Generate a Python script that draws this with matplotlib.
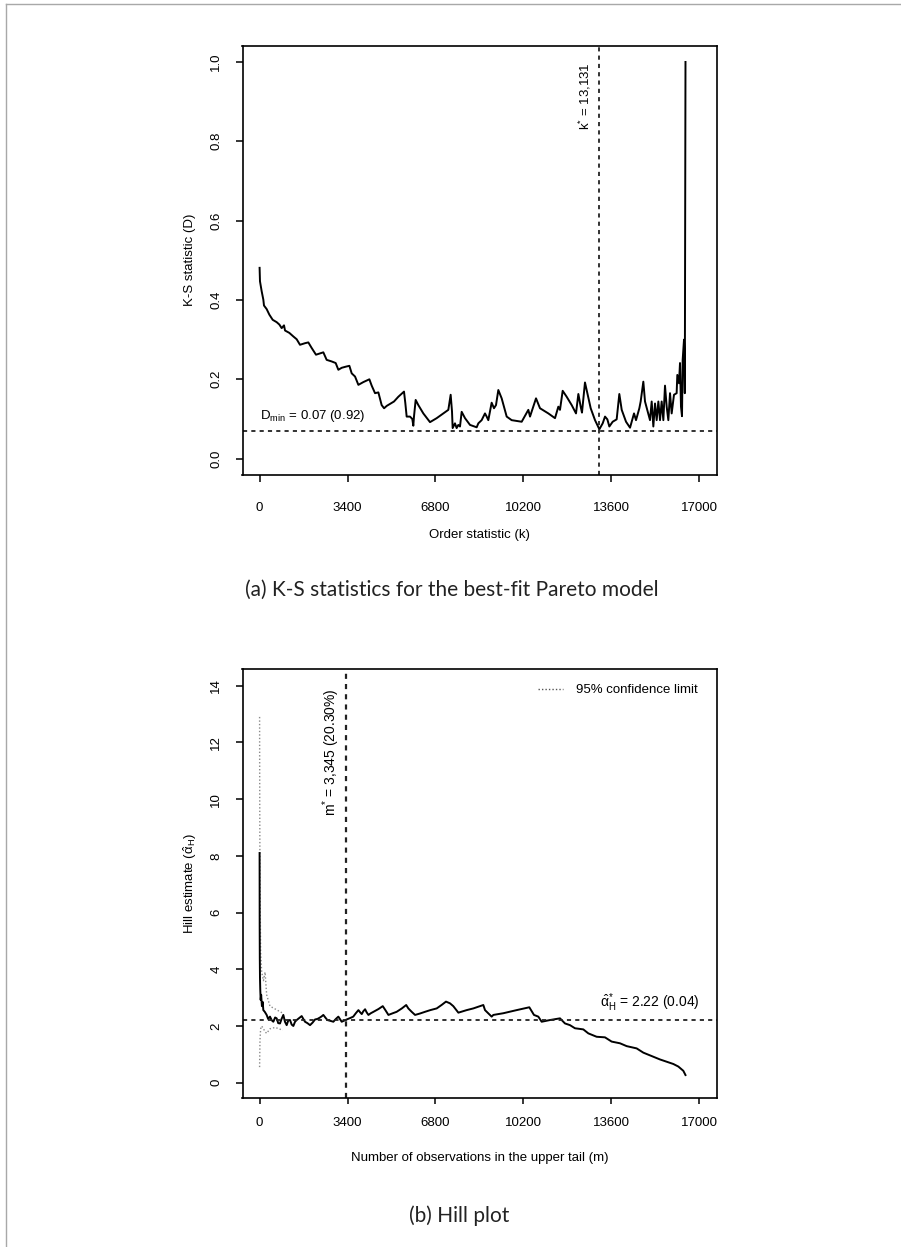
import numpy as np
import matplotlib
matplotlib.use("Agg")
import matplotlib.pyplot as plt
from matplotlib.lines import Line2D

W, H = 901, 1247

# (a) K-S statistic against order statistic k
ks_k = [0, 15, 80, 144, 170, 273, 377, 506, 661, 764, 854, 944, 983, 1150, 1305,
        1433, 1562, 1755, 1884, 2013, 2180, 2374, 2464, 2593, 2787, 2942, 3045,
        3174, 3342, 3471, 3561, 3690, 3819, 4012, 4244, 4334, 4463, 4592, 4719,
        4813, 4916, 5196, 5364, 5583, 5634, 5686, 5815, 5904, 5943, 5969, 6034,
        6137, 6330, 6588, 6846, 7104, 7297, 7387, 7439, 7464, 7554, 7618, 7683,
        7748, 7813, 7942, 8135, 8393, 8457, 8585, 8714, 8779, 8843, 8972, 9062,
        9140, 9230, 9359, 9553, 9746, 10133, 10390, 10455, 10687, 10841, 11163,
        11421, 11550, 11614, 11718, 11872, 12066, 12233, 12324, 12414, 12464,
        12580, 12671, 12801, 12968, 13136, 13265, 13355, 13445, 13522, 13651,
        13805, 13908, 14000, 14167, 14322, 14476, 14553, 14682, 14733, 14836,
        14901, 15094, 15159, 15223, 15288, 15352, 15417, 15481, 15545, 15610,
        15674, 15739, 15803, 15868, 15932, 16021, 16124, 16150, 16215, 16254,
        16292, 16331, 16357, 16409, 16440, 16455, 16466]
ks_d = [0.481, 0.447, 0.422, 0.401, 0.386, 0.377, 0.363, 0.350, 0.344, 0.338,
        0.329, 0.336, 0.323, 0.317, 0.308, 0.301, 0.287, 0.291, 0.293, 0.279,
        0.262, 0.266, 0.268, 0.249, 0.245, 0.241, 0.224, 0.229, 0.232, 0.234,
        0.215, 0.207, 0.186, 0.193, 0.200, 0.184, 0.165, 0.167, 0.135, 0.127,
        0.133, 0.144, 0.156, 0.169, 0.140, 0.106, 0.106, 0.100, 0.083, 0.106,
        0.148, 0.135, 0.114, 0.092, 0.102, 0.114, 0.123, 0.161, 0.119, 0.077,
        0.089, 0.077, 0.085, 0.081, 0.118, 0.102, 0.085, 0.079, 0.089, 0.097,
        0.114, 0.106, 0.097, 0.141, 0.127, 0.135, 0.173, 0.152, 0.106, 0.097,
        0.093, 0.123, 0.106, 0.152, 0.127, 0.114, 0.102, 0.131, 0.123, 0.171,
        0.156, 0.135, 0.114, 0.163, 0.131, 0.116, 0.192, 0.165, 0.127, 0.097,
        0.074, 0.089, 0.106, 0.099, 0.081, 0.093, 0.099, 0.163, 0.123, 0.093,
        0.078, 0.114, 0.097, 0.127, 0.144, 0.194, 0.144, 0.097, 0.144, 0.081,
        0.139, 0.097, 0.144, 0.097, 0.144, 0.097, 0.184, 0.131, 0.097, 0.165,
        0.114, 0.161, 0.165, 0.211, 0.190, 0.241, 0.131, 0.107, 0.249, 0.300,
        0.165, 0.710, 1.000]
k_star = 13131
d_min = 0.07

# (b) Hill estimate against number of tail observations m
hill_m = [0, 3, 8, 15, 25, 41, 60, 90, 120, 144, 200, 273, 330, 402, 470, 531,
          600, 660, 720, 789, 850, 918, 980, 1047, 1110, 1176, 1240, 1305, 1370,
          1434, 1530, 1627, 1690, 1756, 1850, 1950, 2050, 2143, 2240, 2336, 2400,
          2465, 2540, 2620, 2740, 2852, 2950, 3045, 3110, 3174, 3270, 3368, 3500,
          3621, 3720, 3821, 3890, 3950, 4010, 4079, 4140, 4208, 4300, 4402, 4600,
          4762, 4870, 4981, 5150, 5299, 5500, 5668, 5750, 5880, 6011, 6200, 6395,
          6600, 6848, 7050, 7206, 7360, 7489, 7685, 8006, 8264, 8392, 8650, 8715,
          8972, 9037, 9423, 9938, 10428, 10608, 10776, 10905, 11227, 11614, 11807,
          12000, 12193, 12516, 12709, 13031, 13353, 13611, 13934, 14191, 14578,
          14836, 15158, 15480, 15738, 15996, 16189, 16382, 16466]
hill_a = [8.1, 5.6, 4.4, 3.7, 3.3, 2.92, 3.1, 2.7, 2.85, 2.56, 2.5, 2.39, 2.25,
          2.33, 2.2, 2.15, 2.3, 2.27, 2.1, 2.09, 2.25, 2.39, 2.15, 2.03, 2.2, 2.21,
          2.05, 2.0, 2.15, 2.21, 2.28, 2.35, 2.25, 2.15, 2.1, 2.03, 2.12, 2.23,
          2.25, 2.30, 2.34, 2.39, 2.3, 2.21, 2.18, 2.15, 2.25, 2.33, 2.24, 2.15,
          2.19, 2.23, 2.28, 2.33, 2.45, 2.56, 2.48, 2.42, 2.52, 2.59, 2.48, 2.39,
          2.45, 2.50, 2.6, 2.70, 2.55, 2.39, 2.45, 2.50, 2.62, 2.74, 2.62, 2.5,
          2.39, 2.44, 2.50, 2.56, 2.62, 2.75, 2.86, 2.80, 2.70, 2.47, 2.56, 2.62,
          2.66, 2.74, 2.56, 2.33, 2.39, 2.45, 2.56, 2.66, 2.39, 2.33, 2.15, 2.21,
          2.27, 2.09, 2.03, 1.92, 1.88, 1.74, 1.62, 1.60, 1.45, 1.39, 1.29, 1.21,
          1.06, 0.94, 0.82, 0.74, 0.66, 0.57, 0.42, 0.27]
ci_m = [0, 5, 15, 40, 80, 150, 211, 273, 400, 600, 900]
ci_up = [12.9, 10.0, 7.0, 4.6, 3.9, 3.6, 3.9, 3.1, 2.7, 2.6, 2.45]
ci_lo = [0.55, 0.9, 1.5, 1.9, 2.0, 1.9, 1.8, 1.74, 1.9, 1.95, 1.85]
m_star = 3345
alpha_star = 2.22

xticks = [0, 3400, 6800, 10200, 13600, 17000]

plt.rcParams['font.family'] = ['Liberation Sans', 'DejaVu Sans']
plt.rcParams['mathtext.fontset'] = 'custom'
plt.rcParams['mathtext.rm'] = 'Liberation Sans'
plt.rcParams['mathtext.it'] = 'Liberation Sans:italic'
fs = 9.5

fig = plt.figure(figsize=(W / 100, H / 100), dpi=100)

def px_axes(l, t, r, b):
    return fig.add_axes([l / W, 1 - b / H, (r - l) / W, (b - t) / H])

def style(ax, yticks, tick_len, xpad):
    ax.set_xlim(-661, 17665)
    ax.set_xticks(xticks)
    ax.set_yticks(yticks)
    ax.tick_params(axis='x', length=tick_len, width=1.1, pad=xpad, labelsize=fs)
    ax.tick_params(axis='y', length=5, width=1.1, pad=9.5, labelsize=fs, labelrotation=90)
    for lab in ax.get_yticklabels():
        lab.set_va('center')
    for s in ax.spines.values():
        s.set_linewidth(1.2)

# ---- panel (a)
ax1 = px_axes(242.5, 46.1, 716.5, 474.5)
ax1.plot(ks_k, ks_d, color='black', lw=1.4)
ax1.axhline(d_min, color='#222222', lw=1.3, dashes=(2.3, 2.3))
ax1.axvline(k_star, color='#222222', lw=1.3, dashes=(2.3, 2.3))
ax1.set_ylim(-0.04, 1.04)
style(ax1, [0.0, 0.2, 0.4, 0.6, 0.8, 1.0], 5, 15)
ax1.set_yticklabels(['0.0', '0.2', '0.4', '0.6', '0.8', '1.0'])
ax1.text(k_star - 230, 1.0, r'k$\mathregular{^{*}}$ = 13,131', rotation=90,
         ha='right', va='bottom', rotation_mode='anchor', fontsize=fs)
ax1.text(0, d_min + 0.017, r'D$\mathregular{_{min}}$ = 0.07 (0.92)', ha='left',
         va='bottom', fontsize=fs)
ax1.text(0.5, (474.5 - 535) / 428.4, 'Order statistic (k)', transform=ax1.transAxes,
         ha='center', va='center', fontsize=fs)
ax1.text((190 - 242.5) / 474, 0.5, 'K-S statistic (D)', transform=ax1.transAxes,
         rotation=90, ha='center', va='center', fontsize=fs)

# ---- panel (b)
ax2 = px_axes(242.5, 669, 716.5, 1098.3)
ax2.plot(ci_m, ci_up, color='#8a8a8a', lw=1.0, linestyle=(0, (1, 1.5)))
ax2.plot(ci_m, ci_lo, color='#8a8a8a', lw=1.0, linestyle=(0, (1, 1.5)))
ax2.plot(hill_m, hill_a, color='black', lw=1.4)
ax2.axhline(alpha_star, color='#222222', lw=1.3, dashes=(2.3, 2.3))
ax2.axvline(m_star, color='#222222', lw=1.6, dashes=(2.3, 2.3))
ax2.set_ylim(-0.55, 14.59)
style(ax2, [0, 2, 4, 6, 8, 10, 12, 14], 4.3, 9)
ax2.text(m_star - 150, 13.9, r'm$\mathregular{^{*}}$ = 3,345 (20.30%)', rotation=90,
         ha='right', va='bottom', rotation_mode='anchor', fontsize=fs + 0.5)
ax2.text(17000, alpha_star + 0.2, r'$\mathregular{\hat{\alpha}^{*}_{H}}$ = 2.22 (0.04)',
         ha='right', va='bottom', fontsize=fs + 0.5)
leg = ax2.legend(handles=[Line2D([], [], color='#555555', lw=1.0, linestyle=(0, (1, 1.5)))],
                 labels=['95% confidence limit'], loc='upper right',
                 bbox_to_anchor=(0.96, 0.965), frameon=False, fontsize=fs,
                 handlelength=1.9, handletextpad=1.0, borderpad=0, borderaxespad=0)
ax2.text(0.5, (1098.3 - 1158.3) / 429.3, 'Number of observations in the upper tail (m)',
         transform=ax2.transAxes, ha='center', va='center', fontsize=fs)
ax2.text((190 - 242.5) / 474, 0.5, r'Hill estimate ($\mathregular{\hat{\alpha}_{H}}$)',
         transform=ax2.transAxes, rotation=90, ha='center', va='center', fontsize=fs)

# captions
cap_font = ['Lato', 'DejaVu Sans']
fig.text(452 / W, 1 - 590 / H, '(a) K-S statistics for the best-fit Pareto model',
         ha='center', va='center', fontsize=15, family=cap_font, color='#222222')
fig.text(459 / W, 1 - 1216 / H, '(b) Hill plot', ha='center', va='center',
         fontsize=15, family=cap_font, color='#222222')

# page border lines (top and left)
fig.add_artist(Line2D([6 / W, 1], [1 - 4 / H, 1 - 4 / H], transform=fig.transFigure,
                      color='#a8a8a8', lw=1.0))
fig.add_artist(Line2D([6 / W, 6 / W], [0, 1 - 4 / H], transform=fig.transFigure,
                      color='#a8a8a8', lw=1.0))

fig.savefig('out.png', dpi=100)
